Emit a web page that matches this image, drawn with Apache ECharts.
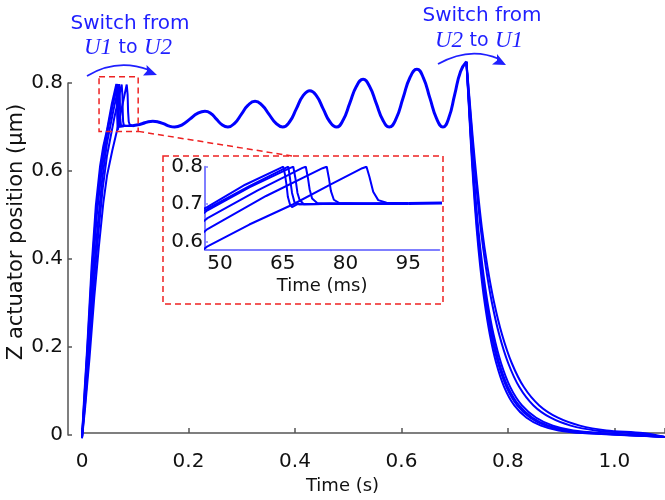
<!DOCTYPE html>
<html><head><meta charset="utf-8">
<script src="https://cdn.jsdelivr.net/npm/echarts@6/dist/echarts.min.js"></script>
<style>html,body{margin:0;padding:0;background:#fff}#c{width:665px;height:500px}</style>
</head><body><div id="c"></div>
<script>
// ---- data (time in s, position in µm) ----
const xTicks = [0, 0.2, 0.4, 0.6, 0.8, 1.0];
const yTicks = [0, 0.2, 0.4, 0.6, 0.8];
const insetXTicks = [0.05, 0.065, 0.08, 0.095];
const insetYTicks = [0.6, 0.7, 0.8];
const zoomRegion = [0.032, 0.1055, 0.689, 0.814]; // t0,t1,v0,v1

const riseC1 = [[0,-0.01],[0.004,0.08],[0.010,0.20],[0.018,0.38],[0.026,0.52],[0.034,0.61],[0.040,0.655],[0.047,0.693],[0.056,0.752],[0.0645,0.797],[0.0651,0.80],[0.0655,0.78],[0.0659,0.75],[0.0662,0.72],[0.0667,0.70],[0.0672,0.692],[0.0685,0.70],[0.080,0.701],[0.095,0.702]];
const riseC6 = [[0,-0.01],[0.004,0.07],[0.010,0.19],[0.018,0.36],[0.026,0.50],[0.034,0.595],[0.040,0.645],[0.047,0.688],[0.057,0.748],[0.0657,0.797],[0.0663,0.80],[0.0667,0.77],[0.0672,0.73],[0.0678,0.705],[0.069,0.70],[0.080,0.701],[0.095,0.702]];
const riseC2 = [[0,-0.01],[0.005,0.08],[0.011,0.20],[0.020,0.37],[0.028,0.50],[0.036,0.59],[0.047,0.684],[0.057,0.745],[0.0668,0.797],[0.0675,0.80],[0.068,0.77],[0.0685,0.73],[0.069,0.712],[0.070,0.70],[0.080,0.701],[0.095,0.702]];
const riseC3 = [[0,-0.01],[0.005,0.07],[0.012,0.19],[0.021,0.35],[0.030,0.48],[0.038,0.58],[0.047,0.663],[0.059,0.737],[0.0697,0.797],[0.0705,0.80],[0.0710,0.77],[0.0714,0.74],[0.0720,0.715],[0.0732,0.703],[0.082,0.701],[0.095,0.702]];
const riseC4 = [[0,-0.01],[0.006,0.07],[0.013,0.18],[0.022,0.33],[0.031,0.46],[0.039,0.56],[0.047,0.634],[0.061,0.722],[0.0745,0.796],[0.0755,0.80],[0.0760,0.77],[0.0765,0.735],[0.0772,0.712],[0.0785,0.703],[0.086,0.701],[0.095,0.702]];
const riseC5 = [[0,-0.012],[0.006,0.06],[0.014,0.17],[0.023,0.31],[0.032,0.43],[0.040,0.525],[0.047,0.588],[0.057,0.646],[0.0675,0.70],[0.076,0.75],[0.0840,0.796],[0.0850,0.80],[0.0857,0.773],[0.0866,0.733],[0.0878,0.711],[0.0898,0.704],[0.095,0.702]];

const oscillation = [[0.095,0.702],[0.105,0.704],[0.114,0.707],[0.123,0.7105],[0.133,0.712],[0.143,0.7105],[0.153,0.7065],[0.164,0.701],[0.174,0.699],
  [0.188,0.704],[0.2025,0.717],[0.217,0.730],[0.231,0.735],[0.242,0.730],[0.2525,0.717],[0.263,0.704],[0.274,0.699],
  [0.287,0.708],[0.2995,0.7285],[0.312,0.749],[0.325,0.758],[0.338,0.749],[0.351,0.7285],[0.364,0.708],[0.377,0.699],
  [0.390,0.711],[0.4025,0.7405],[0.415,0.770],[0.428,0.782],[0.4405,0.770],[0.453,0.7405],[0.4655,0.711],[0.478,0.699],
  [0.4905,0.715],[0.503,0.7535],[0.5155,0.792],[0.528,0.808],[0.540,0.792],[0.5525,0.7535],[0.565,0.715],[0.577,0.699],
  [0.590,0.718],[0.603,0.765],[0.616,0.812],[0.629,0.831],[0.641,0.812],[0.6535,0.765],[0.666,0.718],[0.678,0.699],
  [0.689,0.720],[0.700,0.773],[0.711,0.826],[0.722,0.848]];

const fallV = [0.848,0.76,0.67,0.57,0.47,0.38,0.30,0.225,0.16,0.105,0.063,0.035,0.017,0.006,0.0];
const fallT1 = [0.722,0.726,0.730,0.735,0.741,0.748,0.756,0.766,0.778,0.793,0.812,0.835,0.862,0.895,0.940];
const fallT2 = [0.722,0.7262,0.7305,0.7358,0.7421,0.7496,0.758,0.7686,0.7814,0.7973,0.8174,0.8418,0.8704,0.9054,0.953];
const fallT3 = [0.722,0.7264,0.7308,0.7363,0.7429,0.7506,0.7594,0.7704,0.7836,0.8001,0.821,0.8463,0.876,0.9123,0.9618];
const fallT4 = [0.722,0.7266,0.7313,0.7371,0.744,0.7522,0.7614,0.773,0.787,0.8044,0.8264,0.8531,0.8844,0.9227,0.9749];
const fallT5 = [0.722,0.7276,0.7332,0.7402,0.7486,0.7584,0.7696,0.7836,0.8004,0.8214,0.848,0.8802,0.918,0.9642,1.0272];
const fallT6 = [0.722,0.7281,0.7342,0.742,0.7509,0.7615,0.7737,0.7889,0.8071,0.8299,0.8588,0.8938,0.935,0.985,1.0534];
const tailEnd = [1.095,-0.009];

const rises = [riseC1, riseC6, riseC2, riseC3, riseC4, riseC5];
const fallTimes = [fallT1, fallT2, fallT3, fallT4, fallT5, fallT6];

// ---- chart ----
const FONT = 'DejaVu Sans';
const BLUE = '#0000ff';
const ANN = '#1f1fff';
const RED = '#ee2222';
const AX = '#555555';
const TXT = '#111111';
const chart = echarts.init(document.getElementById('c'));

const base = {type:'line', showSymbol:false, silent:true, animation:false, clip:true};
const series = [];
[0, 2].forEach(g => {
  rises.forEach(r => series.push(Object.assign({}, base, {xAxisIndex:g, yAxisIndex:g, data:r, smooth:false,
    lineStyle:{color:BLUE, width:2}})));
  series.push(Object.assign({}, base, {xAxisIndex:g, yAxisIndex:g, data:oscillation, smooth:0.5,
    lineStyle:{color:BLUE, width:3}}));
});
fallTimes.forEach(ts => {
  const d = ts.map((t, i) => [t, fallV[i]]).concat([tailEnd]);
  series.push(Object.assign({}, base, {xAxisIndex:0, yAxisIndex:0, data:d, smooth:0.3, lineStyle:{color:BLUE, width:2}}));
});

chart.setOption({
  animation:false,
  textStyle:{fontFamily:FONT},
  grid:[
    {left:82, right:0, top:40, height:407},
    {left:68, top:83, height:352, width:10},
    {left:205, top:166.7, width:234.3, height:82.6}
  ],
  xAxis:[
    {type:'value', gridIndex:0, min:0, max:1.095, interval:0.2,
      axisLine:{lineStyle:{color:AX, width:1.5}},
      axisTick:{inside:true, length:5, lineStyle:{color:AX, width:1.5}},
      axisLabel:{margin:7, fontSize:20, color:TXT, fontFamily:FONT, customValues:xTicks,
        formatter:v => v===0 ? '0' : v.toFixed(1)},
      splitLine:{show:false},
      name:'Time (s)', nameLocation:'middle', nameGap:32,
      nameTextStyle:{fontSize:18, color:TXT, fontFamily:FONT, padding:[0,62,0,0]}},
    {type:'value', gridIndex:1, show:false, min:0, max:1},
    {type:'value', gridIndex:2, min:0.0464, max:0.1024,
      axisLine:{lineStyle:{color:'#7f7fff', width:2}},
      axisTick:{show:false},
      axisLabel:{margin:4, fontSize:20, color:TXT, fontFamily:FONT, customValues:insetXTicks,
        formatter:v => String(Math.round(v*1000))},
      splitLine:{show:false},
      name:'Time (ms)', nameLocation:'middle', nameGap:28,
      nameTextStyle:{fontSize:18, color:TXT, fontFamily:FONT}}
  ],
  yAxis:[
    {type:'value', gridIndex:0, min:-0.0273, max:0.8977, show:false},
    {type:'value', gridIndex:1, min:0, max:0.8, interval:0.2,
      axisLine:{show:true, lineStyle:{color:AX, width:1.5}},
      axisTick:{show:true, inside:true, length:4, lineStyle:{color:AX, width:1.5}},
      axisLabel:{margin:5, fontSize:20, color:TXT, fontFamily:FONT, customValues:yTicks,
        formatter:v => v===0 ? '0' : v.toFixed(1)},
      splitLine:{show:false},
      name:'Z actuator position (μm)', nameLocation:'middle', nameGap:37,
      nameTextStyle:{fontSize:21, color:TXT, fontFamily:FONT, padding:[0,0,0,54]}},
    {type:'value', gridIndex:2, min:0.58, max:0.8,
      axisLine:{show:true, lineStyle:{color:'#7f7fff', width:2}},
      axisTick:{show:true, inside:true, length:3, lineStyle:{color:'#7f7fff', width:1.5}, customValues:insetYTicks},
      axisLabel:{margin:2, fontSize:20, color:TXT, fontFamily:FONT, customValues:insetYTicks,
        formatter:v => v.toFixed(1)},
      splitLine:{show:false}}
  ],
  series
});

// ---- annotations ----
const p0 = chart.convertToPixel({gridIndex:0}, [zoomRegion[0], zoomRegion[3]]);
const p1 = chart.convertToPixel({gridIndex:0}, [zoomRegion[1], zoomRegion[2]]);
const dash = {stroke:RED, lineWidth:1.5, lineDash:[6,4], fill:null};
const txt = (x, y, text, extra) => ({type:'text', z:10, style:Object.assign({x, y, text, align:'center', verticalAlign:'middle', fontSize:20, fontFamily:FONT, fill:ANN}, extra||{})});
const rich = {u:{fontFamily:'Liberation Serif', fontStyle:'italic', fontSize:23, fill:ANN}, s:{fontFamily:FONT, fontSize:19, fill:ANN}};
chart.setOption({graphic:[
  {type:'rect', shape:{x:p0[0], y:p0[1], width:p1[0]-p0[0], height:p1[1]-p0[1]}, style:dash, z:5},
  {type:'line', shape:{x1:p1[0], y1:p1[1], x2:292, y2:156}, style:dash, z:5},
  {type:'rect', shape:{x:163, y:156, width:280, height:148}, style:dash, z:5},
  txt(130, 24, 'Switch from'),
  txt(128, 48, '{u|U1} {s|to} {u|U2}', {rich}),
  txt(482, 16, 'Switch from'),
  txt(479, 41, '{u|U2} {s|to} {u|U1}', {rich}),
  {type:'bezierCurve', shape:{x1:87, y1:76, cpx1:117, cpy1:58, x2:149, y2:70}, style:{stroke:ANN, lineWidth:1.8, fill:null}, z:10},
  {type:'polygon', shape:{points:[[157,75],[143,75.5],[147,71],[146.5,65]]}, style:{fill:ANN}, z:10},
  {type:'bezierCurve', shape:{x1:438, y1:64, cpx1:470, cpy1:46, x2:499, y2:59}, style:{stroke:ANN, lineWidth:1.8, fill:null}, z:10},
  {type:'polygon', shape:{points:[[506,65],[492,64.5],[497,60.5],[497,54]]}, style:{fill:ANN}, z:10}
]});
</script></body></html>
